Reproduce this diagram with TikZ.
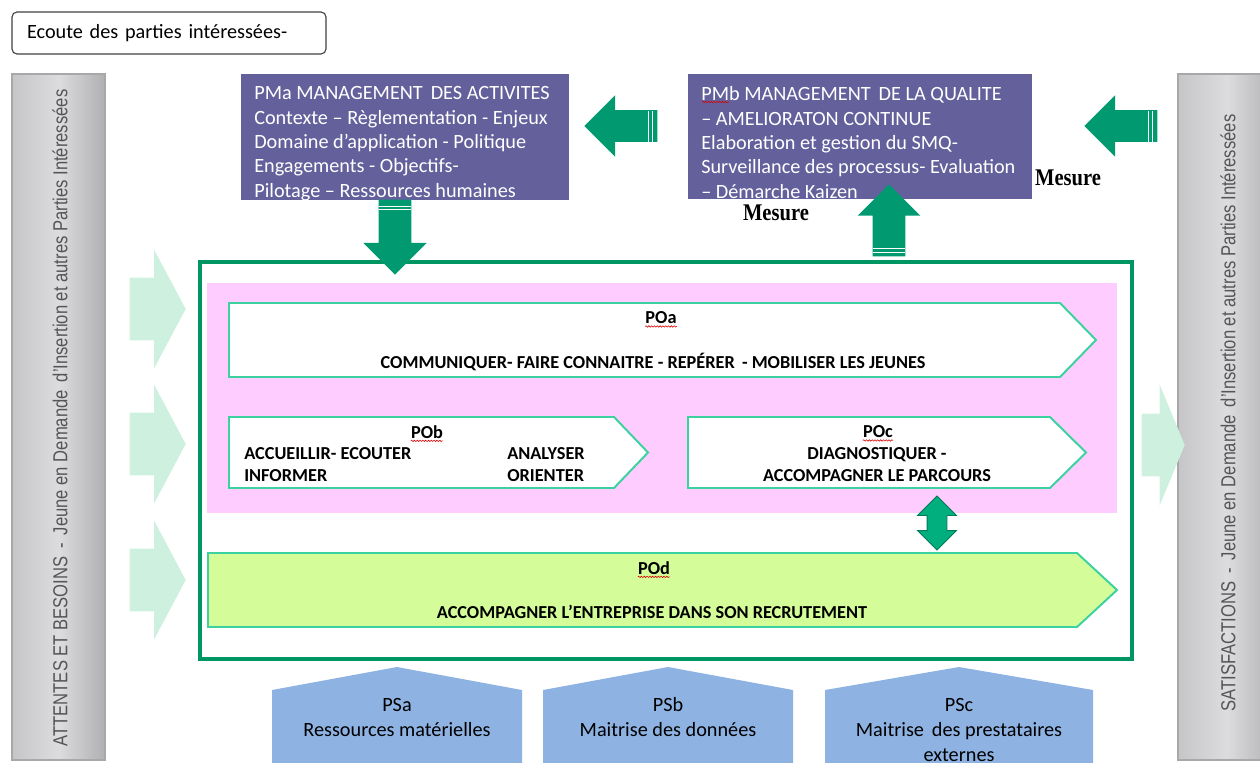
\documentclass[tikz,border=0pt]{standalone}
\usepackage{fontspec}
\setmainfont{Carlito}
\newfontfamily\narrowsans[FakeStretch=0.82]{Liberation Sans}
\newfontfamily\mesurefont[FakeStretch=0.86]{Liberation Serif}
\usetikzlibrary{shapes.arrows,decorations.pathmorphing}

\definecolor{pmblue}{RGB}{100,96,156}
\definecolor{arrowgreen}{RGB}{0,153,112}
\definecolor{framegreen}{RGB}{0,150,100}
\definecolor{pinkbg}{RGB}{255,204,255}
\definecolor{poline}{RGB}{60,210,160}
\definecolor{podfill}{RGB}{212,253,153}
\definecolor{mint}{RGB}{206,240,222}
\definecolor{psblue}{RGB}{142,179,227}
\definecolor{barfill}{RGB}{220,219,222}
\definecolor{baredge}{RGB}{168,168,168}
\definecolor{bartext}{RGB}{85,85,85}
\definecolor{dblgreen}{RGB}{0,175,125}

\def\px{0.025cm}

\begin{document}
\begin{tikzpicture}[x=0.025cm, y=-0.025cm,
    body/.style  ={inner sep=0pt, font=\fontsize{14.4}{17.3}\selectfont},
    pmbox/.style ={fill=pmblue, inner sep=0pt},
    pmtxt/.style ={body, text=white, anchor=north west, align=left},
    bar/.style   ={left color=barfill!90!black, right color=barfill!80!black,
                   middle color=barfill, draw=baredge, line width=1.2pt, inner sep=0pt},
    bartxt/.style={inner sep=0pt, text=bartext, rotate=90,
                   font=\narrowsans\fontsize{14.4}{16}\selectfont},
    garrow/.style={single arrow, fill=arrowgreen, inner sep=0pt, anchor=tip,
                   single arrow tip angle=90},
    stripe/.style={white, line width=0.6pt},
    mintarrow/.style={single arrow, fill=mint, inner sep=0pt, anchor=tip,
                   minimum height=56*\px, inner ysep=31*\px,
                   single arrow head extend=28*\px, single arrow tip angle=124},
    chev/.style  ={draw=poline, line width=1.4pt, fill=white},
    potxt/.style ={inner sep=0pt, align=center,
                   font=\bfseries\fontsize{13}{15.6}\selectfont},
    wave/.style  ={red!85!black, line width=0.4pt, decorate,
                   decoration={snake, amplitude=0.5pt, segment length=2pt}},
    psshape/.style={fill=psblue},
    pstxt/.style ={body, align=center, font=\fontsize{14.4}{17.8}\selectfont},
    mesure/.style={inner sep=0pt, font=\mesurefont\bfseries\fontsize{17}{20}\selectfont},
  ]
  \clip (0,0) rectangle (1260,762);

  % --- ecoute ---
  \node[body, draw=black!75, line width=0.8pt, rounded corners=5*\px,
        minimum height=42*\px, text width=284*\px, inner xsep=15*\px, align=left]
        (ecoute) at (169,33) {Ecoute des parties intéressées-};

  % --- side bars ---
  \node[bar, minimum width=93*\px, minimum height=686*\px] (attentes) at (58.5,417) {};
  \node[bartxt] (attentes-t) at (60,418)
    {ATTENTES ET BESOINS \,-\, Jeune en Demande \,d’Insertion et autres Parties Intéressées};
  \node[bar, minimum width=98*\px, minimum height=686*\px] (satisf) at (1227,417) {};
  \node[bartxt] (satisf-t) at (1228,413)
    {SATISFACTIONS \,-\, Jeune en Demande \,d’Insertion et autres Parties Intéressées};

  % --- management ---
  \node[pmbox, minimum width=328*\px, minimum height=126*\px] (pma) at (405,137) {};
  \node[pmtxt] (pma-t) at (254,86.5)
    {PMa MANAGEMENT \,DES ACTIVITES\\
     Contexte – Règlementation - Enjeux\\
     Domaine d’application - Politique\\
     Engagements - Objectifs-\\
     Pilotage – Ressources humaines};
  \node[pmbox, minimum width=344*\px, minimum height=125*\px] (pmb) at (860,136.5) {};
  \node[pmtxt] (pmb-t) at (701,86.5)
    {PMb MANAGEMENT \,DE LA QUALITE\\
     – AMELIORATON CONTINUE\\
     Elaboration et gestion du SMQ-\\
     Surveillance des processus- Evaluation\\
     – Démarche Kaizen};
  \draw[wave] (702,102) -- (729,102);
  \node[mesure] (mes1) at (1068,178) {Mesure};
  \node[mesure] (mes2) at (776,213) {Mesure};

  % --- operational frame ---
  \node[draw=framegreen, line width=2.2pt, minimum width=932*\px, minimum height=397*\px,
        inner sep=0pt] (cadre) at (666,460.5) {};
  \node[fill=pinkbg, minimum width=910*\px, minimum height=230*\px, inner sep=0pt]
        (zone) at (662,398) {};

  \draw[chev] (229,303) -- (1060,303) -- (1096,340) -- (1060,377) -- (229,377) -- cycle;
  \draw[chev] (229,417) -- (614,417) -- (648,452.5) -- (614,488) -- (229,488) -- cycle;
  \draw[chev] (688,417) -- (1050,417) -- (1086,452.5) -- (1050,488) -- (688,488) -- cycle;
  \draw[chev, fill=podfill] (208,553) -- (1077,553) -- (1117,590) -- (1077,627) -- (208,627) -- cycle;

  \node[potxt] (poa) at (661,318) {POa};
  \node[potxt] (poa-t) at (653,362)
    {COMMUNIQUER- FAIRE CONNAITRE - REPÉRER \,- MOBILISER LES JEUNES};
  \node[potxt] (pob) at (427,432) {POb};
  \node[potxt, anchor=west, align=left] (pob-l) at (244,464.5) {ACCUEILLIR- ECOUTER\\INFORMER};
  \node[potxt, anchor=west, align=left] (pob-r) at (507,464.5) {ANALYSER\\ORIENTER};
  \node[potxt] (poc) at (878,432) {POc};
  \node[potxt] (poc-t) at (877,464.5) {DIAGNOSTIQUER -\\ACCOMPAGNER LE PARCOURS};
  \node[potxt] (pod) at (654,568) {POd};
  \node[potxt] (pod-t) at (652,612) {ACCOMPAGNER L’ENTREPRISE DANS SON RECRUTEMENT};
  \foreach \n in {poa,pob,poc,pod}
    \draw[wave] ([yshift=-1.5pt]\n.south west) -- ([yshift=-1.5pt]\n.south east);

  \node[double arrow, fill=dblgreen, draw=arrowgreen!80!black, line width=0.6pt,
        inner sep=0pt, rotate=90, minimum height=54*\px, inner ysep=9.5*\px,
        double arrow head extend=9.5*\px, double arrow tip angle=90]
        (lien) at (937,523) {};

  % --- support ---
  \fill[psshape] (272,800) -- (272,690) -- (397,667) -- (522,690) -- (522,800) -- cycle;
  \fill[psshape] (543,800) -- (543,690) -- (668,667) -- (793,690) -- (793,800) -- cycle;
  \fill[psshape] (825,800) -- (825,690) -- (959,667) -- (1093,690) -- (1093,800) -- cycle;
  \node[pstxt] (psa) at (397,717.5) {PSa\\Ressources matérielles};
  \node[pstxt] (psb) at (668,717.5) {PSb\\Maitrise des données};
  \node[pstxt] (psc) at (959,730) {PSc\\Maitrise \,des prestataires\\externes};

  % --- flows ---
  \foreach \y in {309,444,580}
    \node[mintarrow] at (186,\y) {};
  \node[mintarrow, minimum height=43*\px, single arrow head extend=29*\px,
        single arrow tip angle=135] (sortie) at (1185,445) {};

  \node[garrow, rotate=180, minimum height=73*\px, inner ysep=15.5*\px,
        single arrow head extend=15*\px] (fb1) at (584,126) {};
  \node[garrow, rotate=180, minimum height=73*\px, inner ysep=15.5*\px,
        single arrow head extend=15*\px] (fb2) at (1084,126) {};
  \node[garrow, rotate=-90, minimum height=75*\px, inner ysep=16*\px,
        single arrow head extend=15.5*\px] (pilot) at (395,275) {};
  \node[garrow, rotate=90, minimum height=72*\px, inner ysep=16*\px,
        single arrow head extend=15*\px] (mesure) at (889,184) {};
  \foreach \x in {648,652} {
    \draw[stripe] (\x,111) -- (\x,142);
    \draw[stripe] (\x+500,111) -- (\x+500,142);
  }
  \draw[stripe] (379,206) -- (411,206);
  \draw[stripe] (379,209.5) -- (411,209.5);
  \draw[stripe] (873,248) -- (905,248);
  \draw[stripe] (873,252) -- (905,252);
\end{tikzpicture}
\end{document}
